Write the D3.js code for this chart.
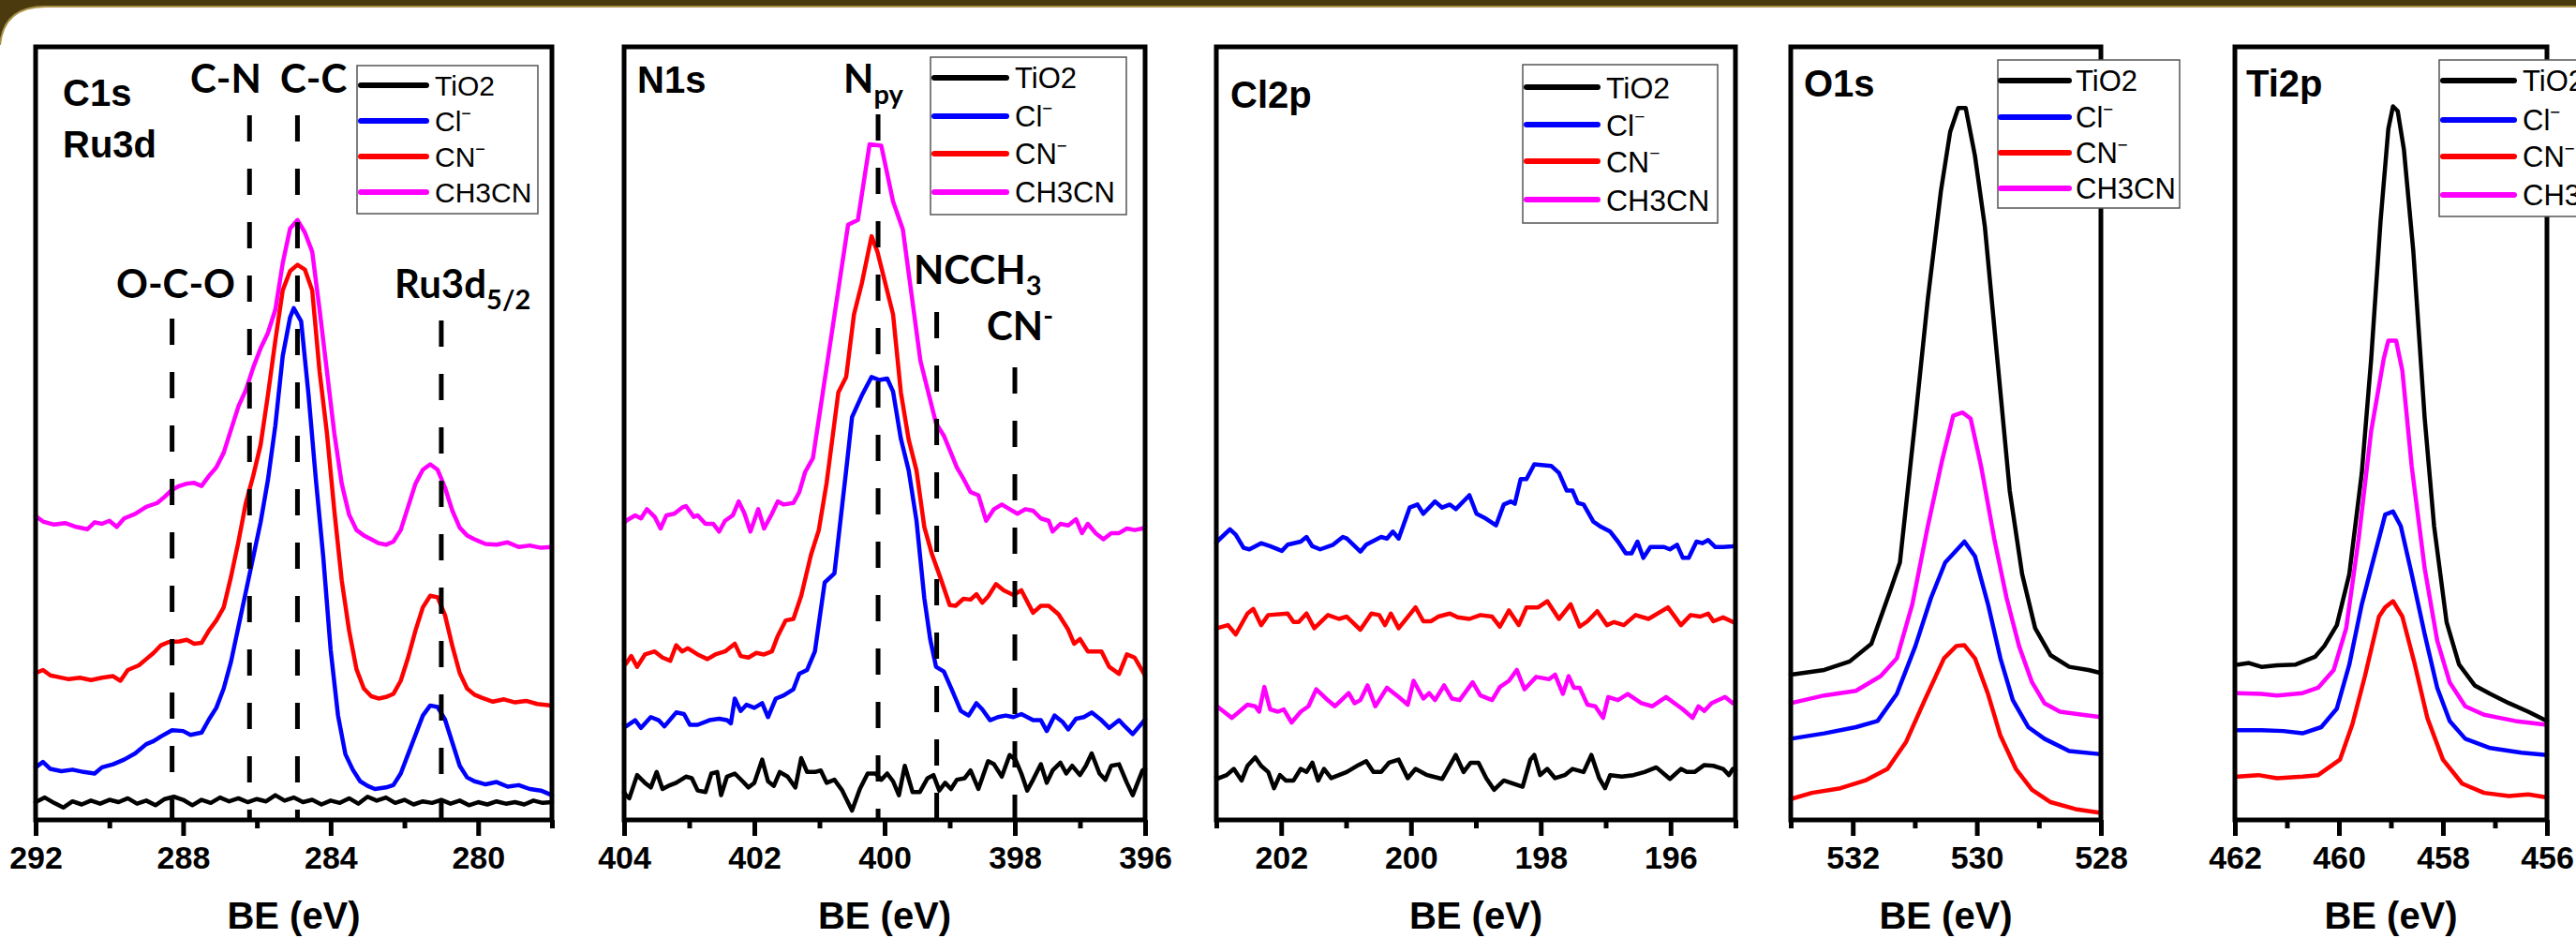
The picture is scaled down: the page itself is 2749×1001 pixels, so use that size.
<!DOCTYPE html>
<html><head><meta charset="utf-8">
<script src="https://cdn.jsdelivr.net/npm/d3@7"></script>
<style>html,body{margin:0;padding:0;background:#fff}svg{display:block}</style>
</head><body>
<svg id="c" width="2749" height="1001"></svg>
<script>
// ---------------- DATA ----------------
const seriesNames = ["TiO2", "Cl", "CN", "CH3CN"];
const seriesSup = ["", "\u2212", "\u2212", ""];

// C1s / Ru3d panel
const c1sTicks = [292, 288, 284, 280];
const c1sMinor = [290, 286, 282, 278];
const c1sMarkers = [288.3, 286.2, 284.9, 281.0];
const c1sTiO2 = [[292,2.3],[291.75,2.9],[291.5,2.2],[291.25,1.6],[291,2.4],[290.75,2.0],[290.5,2.5],[290.25,2.1],[290,2.6],[289.75,2.3],[289.5,2.8],[289.25,2.1],[289,2.5],[288.75,1.9],[288.5,2.7],[288.25,3.0],[288,2.6],[287.75,1.9],[287.5,2.6],[287.25,2.2],[287,2.9],[286.75,2.4],[286.5,2.8],[286.25,2.3],[286,2.7],[285.75,2.4],[285.5,3.2],[285.25,2.5],[285,2.9],[284.75,2.3],[284.5,2.6],[284.25,2.0],[284,2.5],[283.75,2.2],[283.5,2.8],[283.25,2.1],[283,3.0],[282.75,2.5],[282.5,2.9],[282.25,2.2],[282,2.6],[281.75,2.0],[281.5,2.4],[281.25,2.2],[281,2.6],[280.75,2.1],[280.5,2.5],[280.25,1.9],[280,2.3],[279.75,2.0],[279.5,2.4],[279.25,2.1],[279,2.3],[278.75,2.0],[278.5,2.5],[278.25,2.2],[278,2.3]];
const c1sCl = [[292,6.8],[291.8,7.5],[291.6,6.6],[291.3,6.3],[291,6.5],[290.7,6.2],[290.4,6.0],[290.2,6.8],[289.9,7.2],[289.6,7.8],[289.3,8.6],[289,9.8],[288.8,10.2],[288.6,10.8],[288.3,11.6],[288,11.5],[287.8,11.0],[287.5,11.3],[287.3,13.0],[287.1,14.5],[286.9,17.0],[286.7,20.5],[286.5,25.0],[286.3,29.5],[286.1,34.0],[285.9,38.5],[285.7,44.0],[285.5,51.0],[285.3,60.0],[285.1,65.0],[285.0,66.2],[284.8,64.5],[284.6,55.0],[284.4,44.0],[284.2,34.0],[284.0,22.0],[283.8,13.5],[283.6,8.5],[283.4,6.5],[283.2,5.0],[283.0,4.4],[282.8,4.0],[282.5,4.2],[282.3,4.5],[282.1,6.0],[281.9,8.5],[281.7,11.0],[281.5,13.5],[281.3,14.8],[281.1,14.6],[280.9,13.0],[280.7,10.0],[280.5,7.0],[280.3,5.5],[280.1,5.0],[279.8,4.6],[279.5,4.9],[279.2,4.3],[278.9,4.5],[278.6,4.0],[278.3,3.8],[278,3.2]];
const c1sCN = [[292,19.0],[291.8,19.4],[291.6,18.7],[291.4,18.5],[291.1,18.2],[290.8,18.4],[290.5,18.1],[290.2,18.4],[289.9,18.6],[289.7,18.0],[289.5,19.4],[289.2,20.0],[289,20.8],[288.8,21.6],[288.6,22.6],[288.4,23.0],[288.1,23.1],[287.9,23.3],[287.7,22.8],[287.5,22.9],[287.3,24.5],[287.1,25.8],[286.9,27.5],[286.7,31.5],[286.5,36.0],[286.3,41.0],[286.1,44.5],[285.9,48.5],[285.7,55.0],[285.5,62.0],[285.3,68.5],[285.1,71.0],[284.9,71.8],[284.7,71.2],[284.5,68.5],[284.3,58.0],[284.1,50.0],[283.9,40.0],[283.7,31.0],[283.5,24.5],[283.3,19.5],[283.1,17.0],[282.9,16.0],[282.7,15.7],[282.5,15.9],[282.3,16.3],[282.1,18.0],[281.9,21.0],[281.7,24.5],[281.5,27.5],[281.3,29.0],[281.1,28.8],[280.9,26.5],[280.7,22.5],[280.5,19.0],[280.3,17.0],[280.1,16.2],[279.9,15.8],[279.6,15.3],[279.3,15.6],[279,15.2],[278.7,15.4],[278.4,15.0],[278,14.8]];
const c1sCH3CN = [[292,39.3],[291.8,38.6],[291.5,38.2],[291.2,38.4],[290.9,37.9],[290.6,37.6],[290.4,38.5],[290.2,38.3],[290,38.7],[289.8,37.9],[289.6,39.0],[289.3,39.6],[289,40.5],[288.7,41.0],[288.5,41.8],[288.3,42.7],[288.1,43.2],[287.9,43.5],[287.7,43.6],[287.5,43.2],[287.3,44.5],[287.1,45.6],[286.9,47.5],[286.7,50.5],[286.5,53.5],[286.3,55.6],[286.1,58.5],[285.9,61.0],[285.7,63.0],[285.5,66.0],[285.3,72.0],[285.1,76.5],[284.9,77.6],[284.7,76.0],[284.5,73.5],[284.3,66.0],[284.1,58.0],[283.9,50.0],[283.7,43.5],[283.5,39.5],[283.3,37.5],[283.1,36.8],[282.9,36.3],[282.7,35.8],[282.5,35.6],[282.3,36.0],[282.1,37.5],[281.9,40.5],[281.7,43.5],[281.5,45.3],[281.3,46.0],[281.1,45.3],[280.9,43.0],[280.7,40.0],[280.5,37.8],[280.3,36.8],[280.1,36.3],[279.8,35.7],[279.5,35.6],[279.2,35.9],[278.9,35.3],[278.6,35.5],[278.3,35.2],[278,35.3]];

// N1s panel
const n1sTicks = [404, 402, 400, 398, 396];
const n1sMinor = [403, 401, 399, 397];
const n1sMarkers = [400.1, 399.2, 398.0];
const n1sTiO2 = [[404,3.6],[403.97,3.2],[403.92,2.8],[403.80,5.8],[403.68,4.8],[403.59,4.2],[403.50,6.2],[403.41,4.0],[403.32,4.4],[403.20,4.8],[403.05,5.6],[402.96,5.4],[402.87,3.8],[402.75,3.6],[402.66,6.0],[402.57,6.2],[402.51,3.2],[402.42,5.6],[402.30,6.0],[402.18,5.0],[402.09,4.2],[402.00,4.8],[401.88,7.8],[401.79,5.0],[401.70,4.4],[401.61,6.2],[401.49,5.6],[401.37,4.2],[401.28,8.0],[401.19,6.2],[401.07,6.2],[400.98,6.4],[400.89,4.8],[400.77,5.2],[400.65,3.8],[400.50,1.2],[400.38,4.0],[400.26,6.0],[400.14,6.0],[400.05,5.2],[399.96,6.0],[399.87,5.0],[399.78,3.2],[399.69,7.0],[399.57,3.6],[399.46,3.6],[399.34,5.4],[399.25,5.8],[399.16,3.8],[399.07,4.8],[398.98,4.0],[398.89,5.2],[398.77,5.4],[398.68,6.4],[398.56,4.0],[398.41,7.6],[398.32,7.2],[398.20,5.6],[398.08,8.4],[397.99,7.8],[397.90,6.0],[397.81,3.8],[397.72,5.2],[397.60,7.2],[397.51,4.8],[397.42,6.4],[397.30,7.4],[397.21,6.0],[397.12,7.0],[397.00,5.8],[396.91,7.0],[396.82,8.6],[396.70,6.0],[396.61,5.2],[396.52,7.0],[396.40,7.2],[396.28,4.8],[396.19,3.2],[396.04,6.4],[396,6.6]];
const n1sCl = [[404,12.4],[403.97,12.1],[403.83,12.9],[403.74,11.9],[403.59,13.3],[403.47,12.9],[403.38,12.1],[403.20,13.9],[403.08,13.7],[402.99,12.3],[402.87,12.3],[402.69,12.9],[402.54,13.1],[402.42,12.9],[402.36,12.5],[402.30,15.7],[402.21,14.1],[402.12,14.9],[402.00,14.5],[401.88,15.1],[401.79,13.3],[401.67,15.7],[401.55,16.1],[401.40,16.9],[401.31,18.9],[401.19,19.4],[401.07,21.8],[400.92,30.7],[400.77,31.9],[400.65,40.8],[400.59,45.2],[400.50,52.1],[400.35,54.9],[400.20,57.3],[400.08,56.9],[399.96,57.1],[399.87,55.4],[399.75,49.3],[399.63,45.2],[399.51,38.7],[399.39,28.7],[399.30,23.4],[399.21,19.8],[399.09,19.2],[398.97,16.9],[398.83,14.1],[398.71,13.5],[398.59,15.1],[398.50,14.3],[398.38,12.9],[398.26,13.3],[398.14,13.5],[398.02,13.3],[397.90,13.7],[397.72,12.9],[397.60,12.9],[397.51,11.5],[397.39,13.5],[397.27,12.7],[397.18,11.7],[397.06,13.1],[396.94,13.3],[396.82,13.9],[396.67,12.9],[396.55,11.9],[396.40,12.9],[396.31,12.1],[396.19,11.1],[396.01,12.9],[396,13.0]];
const n1sCN = [[404,20.6],[403.97,20.2],[403.89,21.2],[403.80,19.8],[403.68,21.4],[403.53,21.8],[403.41,21.0],[403.29,20.6],[403.20,22.6],[403.11,21.8],[403.02,22.2],[402.87,21.4],[402.72,20.8],[402.60,21.4],[402.45,21.8],[402.30,22.8],[402.21,21.2],[402.09,21.0],[401.97,21.6],[401.85,21.4],[401.73,21.8],[401.64,23.8],[401.52,25.8],[401.40,26.0],[401.28,29.0],[401.13,34.3],[401.01,37.5],[400.89,43.6],[400.71,55.3],[400.59,57.3],[400.47,65.4],[400.35,69.4],[400.20,75.5],[400.11,73.5],[399.87,65.4],[399.75,55.3],[399.63,49.2],[399.51,45.2],[399.39,37.9],[399.27,34.3],[399.15,31.5],[399.00,27.8],[398.91,27.7],[398.79,28.6],[398.68,28.5],[398.59,29.2],[398.50,28.1],[398.41,28.9],[398.29,30.5],[398.17,29.7],[398.02,29.1],[397.90,29.7],[397.72,26.8],[397.60,27.7],[397.48,27.7],[397.33,26.6],[397.18,24.6],[397.09,22.8],[397.00,23.4],[396.88,21.8],[396.67,21.8],[396.55,19.8],[396.40,18.9],[396.28,21.4],[396.16,21.0],[396.01,18.8],[396,18.6]];
const n1sCH3CN = [[404,38.4],[403.97,38.7],[403.83,39.4],[403.74,39.0],[403.65,40.2],[403.53,39.2],[403.44,37.7],[403.35,39.4],[403.23,39.6],[403.11,40.4],[403.05,40.6],[402.93,39.2],[402.87,39.4],[402.75,38.3],[402.63,38.3],[402.54,37.3],[402.45,38.7],[402.33,39.4],[402.24,41.2],[402.15,39.6],[402.06,37.3],[401.94,40.2],[401.85,37.7],[401.73,39.6],[401.64,41.2],[401.55,40.8],[401.40,41.0],[401.31,42.4],[401.22,45.0],[401.10,46.8],[401.07,48.5],[400.56,77.0],[400.41,77.6],[400.23,87.4],[400.05,87.2],[399.87,80.0],[399.72,76.4],[399.45,59.4],[399.21,51.3],[399.09,49.7],[398.89,45.6],[398.80,44.3],[398.68,42.4],[398.56,42.0],[398.44,38.7],[398.32,40.2],[398.20,40.8],[398.08,40.2],[397.96,39.6],[397.84,40.2],[397.72,40.0],[397.60,39.0],[397.48,38.7],[397.42,37.3],[397.30,38.3],[397.18,38.1],[397.06,38.9],[396.97,37.1],[396.88,38.3],[396.76,37.1],[396.64,36.3],[396.52,37.1],[396.40,37.1],[396.28,37.7],[396.16,37.5],[396.04,37.7],[396,37.9]];

// Cl2p panel
const cl2pTicks = [202, 200, 198, 196];
const cl2pMinor = [203, 201, 199, 197, 195];
const cl2pTiO2 = [[203,5.6],[202.96,5.4],[202.84,5.8],[202.73,6.6],[202.61,5.1],[202.52,7.0],[202.40,8.1],[202.31,7.0],[202.20,6.2],[202.11,4.1],[202.02,5.8],[201.93,5.1],[201.81,5.1],[201.70,6.6],[201.61,6.2],[201.52,7.4],[201.43,5.1],[201.34,6.6],[201.23,5.4],[201.11,5.8],[200.99,6.2],[200.81,7.1],[200.69,7.6],[200.58,6.2],[200.46,6.2],[200.34,7.4],[200.19,7.8],[200.05,5.4],[199.93,6.6],[199.75,5.8],[199.52,5.3],[199.31,8.4],[199.19,6.2],[199.08,7.4],[198.96,7.4],[198.84,5.4],[198.72,3.9],[198.57,5.1],[198.43,4.7],[198.28,4.3],[198.16,7.8],[198.10,8.4],[198.01,5.8],[197.90,6.6],[197.78,5.4],[197.63,5.8],[197.51,6.6],[197.34,6.2],[197.22,8.4],[197.10,5.4],[197.01,4.1],[196.93,5.8],[196.75,5.6],[196.57,5.8],[196.40,6.2],[196.22,6.8],[196.01,5.3],[195.84,6.6],[195.75,6.2],[195.63,6.2],[195.48,7.1],[195.34,7.0],[195.19,6.6],[195.10,5.8],[195.04,6.6],[195,6.4]];
const cl2pCl = [[203,35.8],[202.99,36.0],[202.79,37.6],[202.70,36.9],[202.58,35.2],[202.49,35.0],[202.31,35.8],[202.17,35.4],[201.99,34.8],[201.90,35.6],[201.70,36.0],[201.61,36.6],[201.52,35.4],[201.40,35.0],[201.20,35.6],[201.05,36.6],[200.99,36.4],[200.78,34.7],[200.69,35.6],[200.46,36.6],[200.37,36.4],[200.28,37.3],[200.19,36.4],[200.02,40.4],[199.90,40.8],[199.81,39.6],[199.63,41.2],[199.52,40.4],[199.40,40.8],[199.31,40.2],[199.10,42.0],[198.99,39.6],[198.87,39.1],[198.69,38.1],[198.57,40.8],[198.46,41.2],[198.40,40.9],[198.31,44.1],[198.22,44.1],[198.10,46.0],[197.84,45.8],[197.72,44.9],[197.60,42.6],[197.51,42.6],[197.43,41.0],[197.34,40.8],[197.19,38.6],[197.07,37.9],[196.93,37.3],[196.81,36.0],[196.69,34.5],[196.60,34.5],[196.51,36.0],[196.42,33.9],[196.31,35.3],[196.10,35.3],[196.01,35.0],[195.90,35.6],[195.81,33.9],[195.72,33.9],[195.60,36.0],[195.51,35.8],[195.42,36.2],[195.31,35.3],[195.19,35.3],[195.04,35.4],[195,35.5]];
const cl2pCN = [[203,24.7],[202.99,24.8],[202.82,25.2],[202.70,24.0],[202.52,26.7],[202.43,27.3],[202.31,25.2],[202.20,26.5],[201.90,26.7],[201.81,25.6],[201.73,25.6],[201.61,26.7],[201.49,24.8],[201.28,26.5],[201.11,26.0],[200.99,26.3],[200.78,24.6],[200.61,26.7],[200.49,26.5],[200.40,25.2],[200.31,26.7],[200.19,24.8],[199.93,27.5],[199.81,25.7],[199.69,25.7],[199.58,26.3],[199.40,26.7],[199.28,26.2],[199.10,26.0],[198.93,26.5],[198.75,26.3],[198.63,25.0],[198.49,27.1],[198.34,25.2],[198.22,27.5],[198.04,27.5],[197.90,28.3],[197.72,26.0],[197.54,27.9],[197.40,25.0],[197.28,25.7],[197.13,27.0],[196.98,25.2],[196.87,25.6],[196.72,25.2],[196.54,26.5],[196.34,26.0],[196.04,27.5],[195.84,25.2],[195.69,26.5],[195.54,26.3],[195.42,26.7],[195.34,25.7],[195.19,26.2],[195.04,25.6],[195,25.5]];
const cl2pCH3CN = [[203,14.6],[202.99,14.7],[202.76,13.2],[202.52,14.9],[202.40,14.7],[202.34,14.0],[202.26,17.2],[202.17,14.3],[202.05,14.0],[201.96,14.3],[201.84,12.6],[201.70,14.0],[201.58,14.7],[201.46,16.9],[201.31,15.7],[201.17,14.7],[200.96,16.4],[200.87,15.1],[200.78,15.5],[200.67,17.4],[200.55,14.7],[200.37,17.1],[200.19,15.9],[200.05,14.9],[199.96,18.0],[199.81,15.7],[199.72,16.4],[199.63,15.5],[199.49,17.4],[199.37,15.7],[199.25,15.5],[199.05,17.8],[198.93,16.1],[198.75,15.5],[198.63,17.2],[198.49,18.0],[198.37,19.4],[198.25,16.9],[198.07,18.5],[197.87,18.2],[197.78,18.8],[197.66,16.3],[197.57,18.6],[197.49,17.1],[197.40,17.1],[197.28,14.9],[197.16,14.7],[197.04,13.2],[196.96,15.9],[196.81,15.5],[196.66,16.3],[196.45,15.1],[196.28,14.7],[196.07,15.9],[195.81,14.3],[195.66,13.2],[195.57,14.7],[195.48,14.1],[195.37,15.1],[195.16,15.9],[195.04,15.1],[195,15.3]];

// O1s panel
const o1sTicks = [532, 530, 528];
const o1sMinor = [533, 531, 529];
const o1sTiO2 = [[533,18.8],[532.81,19.0],[532.46,19.4],[532.05,20.5],[531.70,22.8],[531.39,29.8],[531.24,33.3],[530.99,51.9],[530.79,67.4],[530.58,81.3],[530.43,89.0],[530.30,92.1],[530.18,92.1],[530.03,85.9],[529.87,76.7],[529.67,59.6],[529.47,42.6],[529.27,31.8],[529.06,24.8],[528.81,21.3],[528.51,19.8],[528.20,19.4],[528,19.0]];
const o1sCl = [[533,10.5],[532.46,11.2],[531.95,12.0],[531.60,12.8],[531.29,16.3],[530.99,22.5],[530.74,28.7],[530.51,33.3],[530.20,36.0],[530.03,34.1],[529.82,27.9],[529.62,20.9],[529.42,15.5],[529.17,12.0],[528.91,10.5],[528.51,8.9],[528,8.5]];
const o1sCN = [[533,2.7],[532.66,3.5],[532.20,4.1],[531.80,5.1],[531.44,6.6],[531.14,10.1],[530.84,15.5],[530.53,20.9],[530.33,22.5],[530.20,22.6],[530.03,20.9],[529.82,16.3],[529.62,10.9],[529.37,6.6],[529.11,3.9],[528.81,2.3],[528.41,1.4],[528,0.9]];
const o1sCH3CN = [[533,15.1],[532.46,16.1],[531.95,16.7],[531.55,18.6],[531.29,20.9],[531.04,27.9],[530.79,38.0],[530.56,46.5],[530.38,52.3],[530.23,52.7],[530.10,51.9],[529.93,45.7],[529.72,36.4],[529.52,28.7],[529.32,22.5],[529.11,17.8],[528.91,15.1],[528.66,14.0],[528.30,13.6],[528,13.3]];

// Ti2p panel
const ti2pTicks = [462, 460, 458, 456];
const ti2pMinor = [461, 459, 457];
const ti2pTiO2 = [[461.94,20.1],[461.73,20.3],[461.49,19.8],[461.19,20.0],[460.83,20.1],[460.46,21.1],[460.28,22.5],[460.04,25.2],[459.80,31.8],[459.56,44.9],[459.38,59.6],[459.20,77.4],[459.05,89.4],[458.96,92.3],[458.87,91.7],[458.75,86.7],[458.57,73.6],[458.35,51.9],[458.17,38.0],[457.93,25.6],[457.69,20.1],[457.39,17.4],[457.09,16.3],[456.73,15.1],[456.36,14.0],[456,12.8]];
const ti2pCl = [[461.94,11.6],[461.49,11.6],[461.07,11.5],[460.70,11.2],[460.34,12.0],[460.04,14.4],[459.80,20.1],[459.56,27.9],[459.32,34.1],[459.11,39.5],[458.96,39.9],[458.81,38.0],[458.60,31.8],[458.35,24.0],[458.11,17.1],[457.87,12.8],[457.57,10.5],[457.09,9.3],[456.49,8.7],[456,8.4]];
const ti2pCN = [[461.94,5.6],[461.55,5.8],[461.19,5.4],[460.70,5.6],[460.40,5.8],[459.98,7.8],[459.74,12.4],[459.50,18.6],[459.23,26.3],[459.11,27.5],[458.96,28.3],[458.78,26.3],[458.54,20.1],[458.30,13.2],[458.00,7.8],[457.63,4.7],[457.21,3.5],[456.73,3.1],[456.36,3.3],[456,2.9]];
const ti2pCH3CN = [[461.94,16.4],[461.49,16.3],[461.19,16.1],[460.70,16.4],[460.40,17.1],[460.10,19.4],[459.86,24.8],[459.62,36.4],[459.38,50.3],[459.14,59.6],[459.05,62.0],[458.90,62.0],[458.78,58.1],[458.60,45.7],[458.35,32.5],[458.11,23.2],[457.87,17.8],[457.57,14.7],[457.21,13.6],[456.61,12.8],[456,12.3]];

// ---------------- LAYOUT / STYLE ----------------
const colors = ["#000000", "#0000ff", "#ff0000", "#ff00ff"];
const TOP = 50, BOT = 875;
const ARIAL = "'Liberation Sans', Arial, Helvetica, sans-serif";
const CAL = "Lato, 'Open Sans', sans-serif";

const panels = [
  {x0: 38, x1: 589, domain: [292, 278], ticks: c1sTicks, minor: c1sMinor,
   series: [c1sTiO2, c1sCl, c1sCN, c1sCH3CN],
   titles: [{t: "C1s", x: 67, y: 113}, {t: "Ru3d", x: 67, y: 168}],
   legend: {x: 381, y: 70, w: 193, h: 158, lx0: 385, lx1: 455, tx: 464, rows: [91, 129, 167, 205], fs: 30},
   markers: c1sMarkers, markerTop: [340, 123, 123, 342]},
  {x0: 666, x1: 1222, domain: [404, 396], ticks: n1sTicks, minor: n1sMinor,
   series: [n1sTiO2, n1sCl, n1sCN, n1sCH3CN],
   titles: [{t: "N1s", x: 680, y: 99}],
   legend: {x: 993, y: 61, w: 209, h: 168, lx0: 997, lx1: 1074, tx: 1083, rows: [83, 124, 164, 205], fs: 31},
   markers: n1sMarkers, markerTop: [122, 333, 392]},
  {x0: 1298, x1: 1852, domain: [203, 195], ticks: cl2pTicks, minor: cl2pMinor,
   series: [cl2pTiO2, cl2pCl, cl2pCN, cl2pCH3CN],
   titles: [{t: "Cl2p", x: 1313, y: 115}],
   legend: {x: 1625, y: 69, w: 208, h: 169, lx0: 1629, lx1: 1705, tx: 1714, rows: [93, 133, 172, 213], fs: 32},
   markers: [], markerTop: []},
  {x0: 1911, x1: 2242, domain: [533, 528], ticks: o1sTicks, minor: o1sMinor,
   series: [o1sTiO2, o1sCl, o1sCN, o1sCH3CN],
   titles: [{t: "O1s", x: 1925, y: 103}],
   legend: {x: 2132, y: 64, w: 194, h: 158, lx0: 2135, lx1: 2208, tx: 2215, rows: [86, 125, 163, 201], fs: 31},
   markers: [], markerTop: []},
  {x0: 2385, x1: 2718, domain: [462, 456], ticks: ti2pTicks, minor: ti2pMinor,
   series: [ti2pTiO2, ti2pCl, ti2pCN, ti2pCH3CN],
   titles: [{t: "Ti2p", x: 2397, y: 103}],
   legend: {x: 2603, y: 64, w: 170, h: 167, lx0: 2607, lx1: 2683, tx: 2692, rows: [86, 128, 167, 208], fs: 31},
   markers: [], markerTop: []}
];

const svg = d3.select("#c");

// top banner
svg.append("path").attr("d", "M0,0 H2749 V7 H48 Q4,7 0,48 Z").attr("fill", "#4b3a0e");
svg.append("path").attr("d", "M2749,7 H48 Q4,7 0,48").attr("fill", "none").attr("stroke", "#a89047").attr("stroke-width", 2);

const y = d3.scaleLinear().domain([0, 100]).range([BOT, TOP]);

panels.forEach(p => {
  const x = d3.scaleLinear().domain(p.domain).range([p.x0, p.x1]);
  const g = svg.append("g");
  const line = d3.line().x(d => x(d[0])).y(d => y(d[1]));

  p.series.forEach((s, i) => {
    g.append("path").attr("d", line(s)).attr("fill", "none")
      .attr("stroke", colors[i]).attr("stroke-width", 4.5)
      .attr("stroke-linejoin", "round").attr("stroke-linecap", "round");
  });

  // dashed reference lines
  p.markers.forEach((m, i) => {
    g.append("line").attr("x1", x(m)).attr("x2", x(m))
      .attr("y1", p.markerTop[i]).attr("y2", BOT)
      .attr("stroke", "#000").attr("stroke-width", 5)
      .attr("stroke-dasharray", "28,29");
  });

  // frame
  g.append("rect").attr("x", p.x0).attr("y", TOP).attr("width", p.x1 - p.x0).attr("height", BOT - TOP)
    .attr("fill", "none").attr("stroke", "#000").attr("stroke-width", 5);

  // axes
  const maj = d3.axisBottom(x).tickValues(p.ticks).tickSize(17).tickSizeOuter(0).tickPadding(11).tickFormat(d3.format("d"));
  const gA = g.append("g").attr("transform", `translate(0,${BOT})`).call(maj)
    .attr("font-family", ARIAL).attr("font-size", 34).attr("font-weight", "bold");
  gA.select(".domain").remove();
  gA.selectAll(".tick line").attr("stroke", "#000").attr("stroke-width", 5);
  gA.selectAll(".tick text").attr("fill", "#000");
  const mn = d3.axisBottom(x).tickValues(p.minor).tickSize(9).tickSizeOuter(0).tickFormat("");
  const gM = g.append("g").attr("transform", `translate(0,${BOT})`).call(mn);
  gM.select(".domain").remove();
  gM.selectAll(".tick line").attr("stroke", "#000").attr("stroke-width", 5);

  g.append("text").attr("x", (p.x0 + p.x1) / 2).attr("y", 991).attr("text-anchor", "middle")
    .attr("font-family", ARIAL).attr("font-weight", "bold").attr("font-size", 40).attr("fill", "#000")
    .text("BE (eV)");

  // titles
  p.titles.forEach(t => {
    g.append("text").attr("x", t.x).attr("y", t.y).attr("font-family", ARIAL)
      .attr("font-weight", "bold").attr("font-size", 40).attr("fill", "#000").text(t.t);
  });

  // legend
  const L = p.legend;
  g.append("rect").attr("x", L.x).attr("y", L.y).attr("width", L.w).attr("height", L.h)
    .attr("fill", "#fff").attr("stroke", "#555").attr("stroke-width", 1.5);
  seriesNames.forEach((n, i) => {
    g.append("line").attr("x1", L.lx0).attr("x2", L.lx1).attr("y1", L.rows[i]).attr("y2", L.rows[i])
      .attr("stroke", colors[i]).attr("stroke-width", 6).attr("stroke-linecap", "round");
    const t = g.append("text").attr("x", L.tx).attr("y", L.rows[i] + L.fs * 0.36)
      .attr("font-family", ARIAL).attr("font-size", L.fs).attr("fill", "#000").text(n);
    if (seriesSup[i]) t.append("tspan").attr("dy", -L.fs * 0.42).attr("font-size", L.fs * 0.6).text(seriesSup[i]);
  });
});

// annotations (peak assignments)
function ann(x, yb, main, sub, mode) {
  const t = svg.append("text").attr("x", x).attr("y", yb).attr("font-family", CAL)
    .attr("font-weight", "bold").attr("font-size", 42).attr("fill", "#000").text(main);
  if (sub) t.append("tspan").attr("dy", mode === "sup" ? -16 : 12).attr("font-size", 29).text(sub);
}
ann(203, 99, "C-N");
ann(299, 99, "C-C");
ann(124, 318, "O-C-O");
ann(421, 318, "Ru3d", "5/2", "sub");
ann(900, 99, "N", "py", "sub");
ann(975, 303, "NCCH", "3", "sub");
ann(1053, 363, "CN", "-", "sup");
</script>
</body></html>
